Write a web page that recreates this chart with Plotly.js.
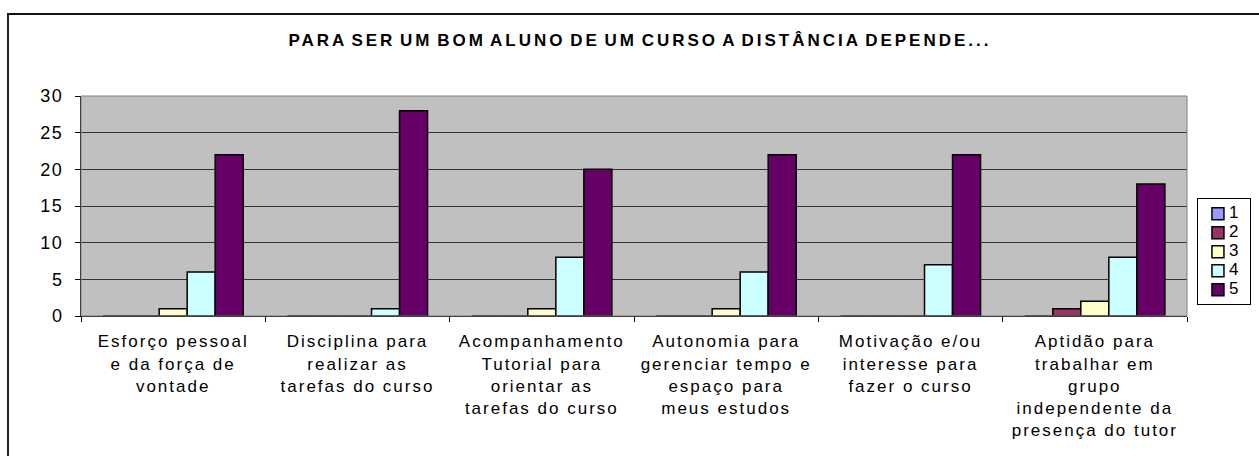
<!DOCTYPE html>
<html>
<head>
<meta charset="utf-8">
<script src="https://cdn.plot.ly/plotly-3.0.1.min.js"></script>
<style>
  html, body { margin: 0; padding: 0; background: #fff; }
  #wrap { position: relative; width: 1259px; height: 456px; overflow: hidden; }
  #chart { position: absolute; left: 0; top: 0; width: 1320px; height: 456px; }
  #frame { position: absolute; left: 7px; top: 13px; width: 1300px; height: 500px;
           border-left: 2px solid #222; border-top: 2px solid #111; pointer-events: none; }
  #chart .xtick text { letter-spacing: 2px; }
  #chart .ytick text { letter-spacing: 1.5px; }
  #chart .gtitle { letter-spacing: 3px; word-spacing: -3px; }
  #chart .legendtext { font-size: 17px !important; transform: translateX(-9px); }
</style>
</head>
<body>
<div id="wrap">
  <div id="chart"></div>
  <div id="frame"></div>
</div>
<script>
const categories = [
  "Esforço pessoal<br>e da força de<br>vontade",
  "Disciplina para<br>realizar as<br>tarefas do curso",
  "Acompanhamento<br>Tutorial para<br>orientar as<br>tarefas do curso",
  "Autonomia para<br>gerenciar tempo e<br>espaço para<br>meus estudos",
  "Motivação e/ou<br>interesse para<br>fazer o curso",
  "Aptidão para<br>trabalhar em<br>grupo<br>independente da<br>presença do tutor"
];
const seriesNames = ["1", "2", "3", "4", "5"];
const series1 = [0, 0, 0, 0, 0, 0];
const series2 = [0, 0, 0, 0, 0, 1];
const series3 = [1, 0, 1, 1, 0, 2];
const series4 = [6, 1, 8, 6, 7, 8];
const series5 = [22, 28, 20, 22, 22, 18];
const yTicks = [0, 5, 10, 15, 20, 25, 30];
const titleText = "PARA SER UM BOM ALUNO DE UM CURSO A DISTÂNCIA DEPENDE...";

const colors = ["#9999FF", "#993366", "#FFFFCC", "#CCFFFF", "#660066"];
const allSeries = [series1, series2, series3, series4, series5];

const traces = allSeries.map((vals, i) => ({
  type: "bar",
  name: seriesNames[i],
  x: categories,
  y: vals,
  marker: { color: colors[i], line: { color: "#000", width: 1.5 } },
  hoverinfo: "x+y+name"
}));

const FONT = "Liberation Sans, Arial, sans-serif";

const layout = {
  width: 1320,
  height: 456,
  margin: { l: 81, r: 133, t: 96, b: 140 },
  paper_bgcolor: "#ffffff",
  plot_bgcolor: "#C0C0C0",
  font: { family: FONT, size: 17, color: "#000" },
  title: {
    text: "<b>" + titleText + "</b>",
    font: { family: FONT, size: 17, color: "#000" },
    xref: "paper", x: 0.5054, xanchor: "center",
    yref: "container", y: 0.912, yanchor: "middle"
  },
  barmode: "group",
  bargap: 0.24,
  bargroupgap: 0,
  showlegend: true,
  legend: {
    x: 1.009, xanchor: "left", y: 0.535, yanchor: "top",
    bgcolor: "#fff", bordercolor: "#000", borderwidth: 1,
    font: { family: FONT, size: 12, color: "#000" },
    tracegroupgap: 0, itemwidth: 30
  },
  xaxis: {
    type: "category",
    showgrid: false,
    showline: true, linecolor: "#000", linewidth: 1,
    ticks: "outside", tickson: "boundaries", ticklen: 5, tickcolor: "#000",
    tickangle: 0,
    ticklabelstandoff: 10,
    tickfont: { family: FONT, size: 17, color: "#000" },
    automargin: false, fixedrange: true
  },
  yaxis: {
    range: [0, 30],
    tickvals: yTicks,
    ticktext: yTicks.map(String),
    showgrid: true, gridcolor: "#333", gridwidth: 1,
    showline: true, linecolor: "#000", linewidth: 1,
    ticks: "outside", ticklen: 5, tickcolor: "#000",
    ticklabelstandoff: 8,
    tickfont: { family: FONT, size: 18, color: "#000" },
    zeroline: false, automargin: false, fixedrange: true
  },
  shapes: [
    { type: "rect", xref: "paper", yref: "paper", x0: 0, x1: 1, y0: 0, y1: 1,
      line: { color: "#808080", width: 1 }, fillcolor: "rgba(0,0,0,0)", layer: "above" }
  ]
};

Plotly.newPlot("chart", traces, layout, { displayModeBar: false, staticPlot: true });
</script>
</body>
</html>
